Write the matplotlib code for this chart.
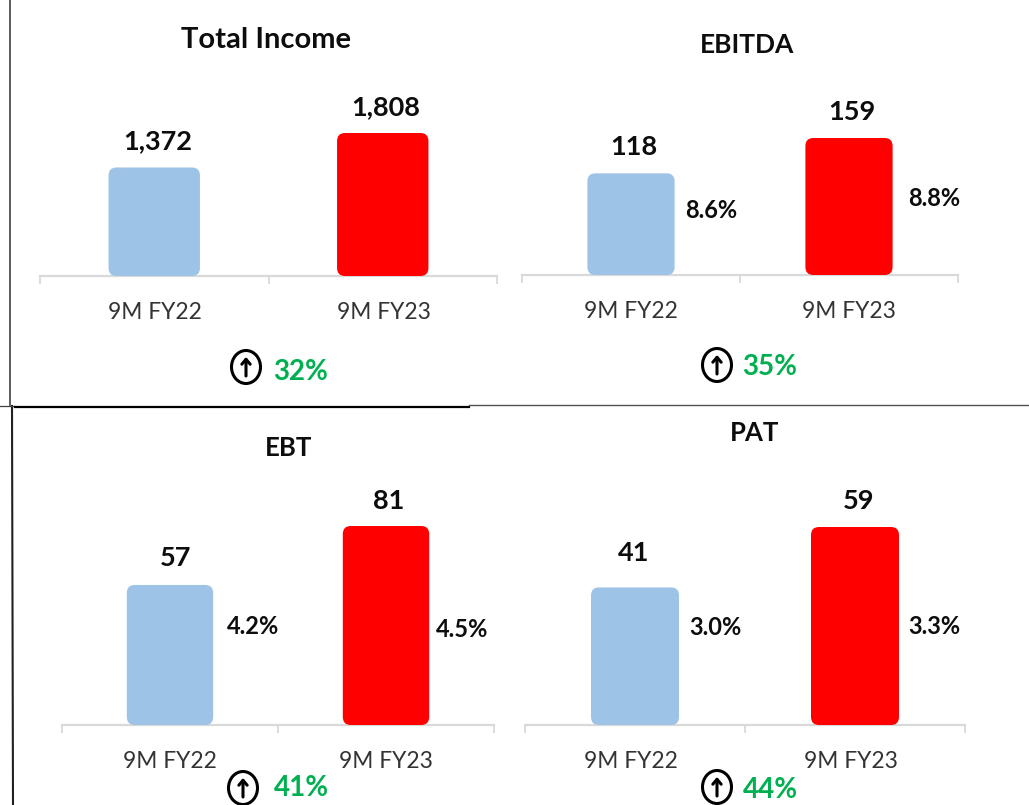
import matplotlib
matplotlib.use("Agg")
import matplotlib.pyplot as plt
from matplotlib.patches import FancyBboxPatch, Ellipse
from matplotlib.transforms import ScaledTranslation

W, H = 1029, 805
plt.rcParams["font.family"] = ["Lato", "DejaVu Sans"]

# data
titles = ["Total Income", "EBITDA", "EBT", "PAT"]
periods = ["9M FY22", "9M FY23"]
values = [[1372, 1808], [118, 159], [57, 81], [41, 59]]
value_labels = [["1,372", "1,808"], ["118", "159"], ["57", "81"], ["41", "59"]]
margins = [None, ["8.6%", "8.8%"], ["4.2%", "4.5%"], ["3.0%", "3.3%"]]
growth = ["32%", "35%", "41%", "44%"]
colors = ["#9DC3E6", "#FF0000"]

# layout, all in pixels of the picture
axis_left = [40, 522, 62, 525]
axis_right = [497, 958, 494, 965]
axis_base = [276, 275, 725, 725]
axis_h = [230, 230, 230, 230]
tallest_px = [143, 137, 199, 198]
tick_dx = [1, 0, 0, -4]
label_dx = [[4, 3], [3, 3], [6, 3], [-1, 4]]
label_dy = [[26, 26], [26, 26], [27, 25], [34, 26]]
title_xy = [(266, 40), (747, 45), (289, 448), (755, 433)]
title_size = [21, 19, 18.5, 18.5]
margin_xy = [None, [(711, 210), (934, 198)], [(253, 626), (462, 629)], [(715, 627), (934, 626)]]
growth_xy = [(301, 372), (770, 367), (301, 788), (770, 790)]
icon_xy = [(246, 367), (717, 365), (243, 788), (717, 787)]

fig = plt.figure(figsize=(W / 100, H / 100), dpi=100, facecolor="white")

for i in range(4):
    l, r, b, h = axis_left[i], axis_right[i], axis_base[i], axis_h[i]
    ax = fig.add_axes([l / W, 1 - b / H, (r - l) / W, h / H])
    ax.set_xlim(-0.5, 1.5)
    ymax = max(values[i]) * h / tallest_px[i]
    ax.set_ylim(0, ymax)
    ax.patch.set_alpha(0)
    for s in ["top", "left", "right"]:
        ax.spines[s].set_visible(False)
    ax.spines["bottom"].set_color("#D9D9D9")
    ax.spines["bottom"].set_linewidth(1.6)
    ax.set_yticks([])
    ax.set_xticks([-0.5, 0.5, 1.5])
    ax.set_xticklabels([])
    ax.tick_params(axis="x", which="major", length=6, width=1.3, color="#D9D9D9")
    ax.set_xticks([0, 1], minor=True)
    ax.set_xticklabels(periods, minor=True, fontsize=16.4, color="#333333")
    ax.tick_params(axis="x", which="minor", length=0, pad=19)
    shift = ScaledTranslation(tick_dx[i] / 100, 0, fig.dpi_scale_trans)
    for t in ax.get_xticklabels(minor=True):
        t.set_transform(t.get_transform() + shift)

    xu = 2 / (r - l)
    yu = ymax / h
    bars = ax.bar([0, 1], values[i], width=0.4, color=colors)
    for j, bar in enumerate(bars):
        # swap the square bar for a rounded one of the same size
        bar.set_visible(False)
        ax.add_patch(FancyBboxPatch(
            (bar.get_x(), 0), bar.get_width(), bar.get_height(),
            boxstyle=f"round,pad=0,rounding_size={8 * xu}",
            mutation_aspect=yu / xu, fc=colors[j], ec="none", zorder=3,
        ))
        ax.annotate(
            value_labels[i][j], (j, values[i][j]),
            xytext=(label_dx[i][j] / 1.389, label_dy[i][j] / 1.389),
            textcoords="offset points", ha="center", va="center",
            fontsize=19.5, fontweight="bold", color="#0D0D0D",
        )

# overlay for the text and lines placed by hand
ov = fig.add_axes([0, 0, 1, 1], zorder=5)
ov.set_xlim(0, W)
ov.set_ylim(H, 0)
ov.axis("off")

for i in range(4):
    ov.text(*title_xy[i], titles[i], ha="center", va="center",
            fontsize=title_size[i], fontweight="bold", color="#0D0D0D")
    if margins[i]:
        for j in range(2):
            ov.text(*margin_xy[i][j], margins[i][j], ha="center", va="center",
                    fontsize=17, fontweight="bold", color="#0D0D0D")
    ov.text(*growth_xy[i], growth[i], ha="center", va="center",
            fontsize=20, fontweight="bold", color="#00B050")
    cx, cy = icon_xy[i]
    ov.add_patch(Ellipse((cx, cy), 29, 33, fc="white", ec="black", lw=2.2))
    ov.annotate("", xy=(cx, cy - 10), xytext=(cx, cy + 9),
                arrowprops=dict(arrowstyle="->,head_length=0.35,head_width=0.3", lw=2.2, color="black",
                                shrinkA=0, shrinkB=0))

# frame lines left over from the slide
ov.plot([10, 10], [0, 405], color="#404040", lw=1.2)
ov.plot([12, 13], [406, 805], color="#202020", lw=1.5)
ov.plot([0, 15], [406, 406], color="#404040", lw=0.9)
ov.plot([15, 469], [406.5, 406.5], color="black", lw=1.6)
ov.plot([469, W], [405, 405], color="#505050", lw=1.0)

fig.savefig("out.png", dpi=100, facecolor="white")
